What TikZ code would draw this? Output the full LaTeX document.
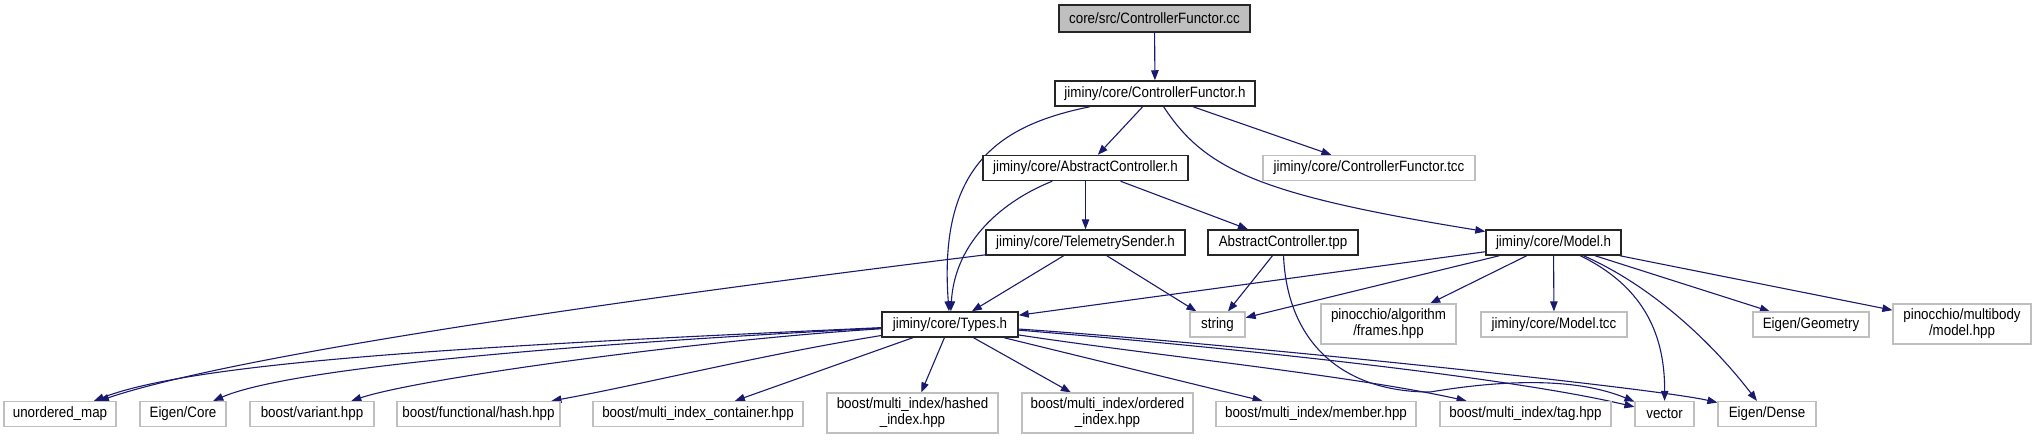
\documentclass[tikz,border=0pt]{standalone}
\usepackage{fontspec}
\newfontfamily\dotfont[FakeStretch=0.89]{Liberation Sans}
\usetikzlibrary{arrows.meta}
\pgfdeclarelayer{edgelayer}
\pgfdeclarelayer{nodelayer}
\pgfsetlayers{edgelayer,nodelayer,main}
\definecolor{edgeblue}{HTML}{191970}
\definecolor{grey75}{HTML}{BFBFBF}
\tikzstyle{hn}=[draw=black!85,line width=1.5pt,fill=white,inner sep=0mm,minimum height=25pt,font=\dotfont\fontsize{15}{16}\selectfont,align=center]
\tikzstyle{cn}=[hn,fill=grey75,minimum height=27pt]
\tikzstyle{xn}=[hn,draw=grey75,line width=1.2pt]
\tikzstyle{xn2}=[xn,minimum height=40pt]
\tikzstyle{incedge}=[draw=edgeblue,line width=1.1pt,-{Triangle[length=10pt,width=7.5pt]}]

\begin{document}
\begin{tikzpicture}[x=1pt,y=-1pt]
	\useasboundingbox (0,0) rectangle (2036,440);
	\begin{pgfonlayer}{nodelayer}
		\node [style=cn, minimum width=191pt] (cc) at (1154.5, 18.5) {core/src/ControllerFunctor.cc};
		\node [style=hn, minimum width=200pt] (cfh) at (1155, 93.5) {jiminy/core/ControllerFunctor.h};
		\node [style=hn, minimum width=205pt] (ach) at (1085.5, 168) {jiminy/core/AbstractController.h};
		\node [style=xn, minimum width=212pt] (cftcc) at (1369, 168) {jiminy/core/ControllerFunctor.tcc};
		\node [style=hn, minimum width=199pt] (tsh) at (1085.5, 242.5) {jiminy/core/TelemetrySender.h};
		\node [style=hn, minimum width=150pt] (actpp) at (1283, 242.5) {AbstractController.tpp};
		\node [style=hn, minimum width=135pt] (modelh) at (1553.5, 242.5) {jiminy/core/Model.h};
		\node [style=hn, minimum width=136pt] (types) at (950, 324.5) {jiminy/core/Types.h};
		\node [style=xn, minimum width=55pt] (string) at (1217.5, 324.5) {string};
		\node [style=xn2, minimum width=135pt] (frames) at (1388.5, 324) {pinocchio/algorithm\\/frames.hpp};
		\node [style=xn, minimum width=146pt] (modeltcc) at (1554, 324.5) {jiminy/core/Model.tcc};
		\node [style=xn, minimum width=116pt] (egeom) at (1811, 324.5) {Eigen/Geometry};
		\node [style=xn2, minimum width=138pt] (mbmodel) at (1962, 324) {pinocchio/multibody\\/model.hpp};
		\node [style=xn, minimum width=112pt] (umap) at (60, 414) {unordered\_map};
		\node [style=xn, minimum width=86pt] (ecore) at (183, 414) {Eigen/Core};
		\node [style=xn, minimum width=124pt] (variant) at (312, 414) {boost/variant.hpp};
		\node [style=xn, minimum width=163pt] (fhash) at (478.5, 414) {boost/functional/hash.hpp};
		\node [style=xn, minimum width=210pt] (mic) at (698, 414) {boost/multi\_index\_container.hpp};
		\node [style=xn2, minimum width=171pt] (hashed) at (912.5, 413) {boost/multi\_index/hashed\\\_index.hpp};
		\node [style=xn2, minimum width=171pt] (ordered) at (1107.5, 413) {boost/multi\_index/ordered\\\_index.hpp};
		\node [style=xn, minimum width=200pt] (member) at (1316, 414) {boost/multi\_index/member.hpp};
		\node [style=xn, minimum width=171pt] (tag) at (1525.5, 414) {boost/multi\_index/tag.hpp};
		\node [style=xn, minimum width=59pt] (vector) at (1664.5, 414) {vector};
		\node [style=xn, minimum width=98pt] (edense) at (1767, 414) {Eigen/Dense};
	\end{pgfonlayer}
	\begin{pgfonlayer}{edgelayer}
		% top part
		\draw [style=incedge] (cc) -- (cfh);
		\draw [style=incedge] (cfh) -- (ach);
		\draw [style=incedge] (cfh) -- (cftcc);
		\draw [style=incedge] (cfh) .. controls (1000,125) and (938,165) .. (types);
		\draw [style=incedge] (cfh) .. controls (1205,170) and (1260,195) .. (modelh);
		\draw [style=incedge] (ach) -- (tsh);
		\draw [style=incedge] (ach) -- (actpp);
		\draw [style=incedge] (ach) .. controls (1005,200) and (955,240) .. (types);
		\draw [style=incedge] (tsh) -- (types);
		\draw [style=incedge] (tsh) -- (string);
		\draw [style=incedge] (tsh) .. controls (700,290) and (250,350) .. (umap);
		\draw [style=incedge] (actpp) -- (string);
		\draw [style=incedge] (actpp) .. controls (1287,340) and (1340,392) .. (1430,392) .. controls (1490,382) and (1570,375) .. (vector);
		% Model.h
		\draw [style=incedge] (modelh) -- (types);
		\draw [style=incedge] (modelh) -- (string);
		\draw [style=incedge] (modelh) -- (frames);
		\draw [style=incedge] (modelh) -- (modeltcc);
		\draw [style=incedge] (modelh) .. controls (1640,285) and (1665,330) .. (vector);
		\draw [style=incedge] (modelh) .. controls (1650,285) and (1710,340) .. (edense);
		\draw [style=incedge] (modelh) -- (egeom);
		\draw [style=incedge] (modelh) -- (mbmodel);
		% Types.h
		\draw [style=incedge] (types) .. controls (500,345) and (200,360) .. (umap);
		\draw [style=incedge] (types) .. controls (500,348) and (280,372) .. (ecore);
		\draw [style=incedge] (types) .. controls (700,340) and (420,378) .. (variant);
		\draw [style=incedge] (types) .. controls (760,355) and (640,385) .. (fhash);
		\draw [style=incedge] (types) -- (mic);
		\draw [style=incedge] (types) -- (hashed);
		\draw [style=incedge] (types) -- (ordered);
		\draw [style=incedge] (types) -- (member);
		\draw [style=incedge] (types) .. controls (1150,355) and (1350,375) .. (tag);
		\draw [style=incedge] (types) .. controls (1200,345) and (1500,375) .. (vector);
		\draw [style=incedge] (types) .. controls (1200,341) and (1650,387) .. (edense);
	\end{pgfonlayer}
\end{tikzpicture}
\end{document}
